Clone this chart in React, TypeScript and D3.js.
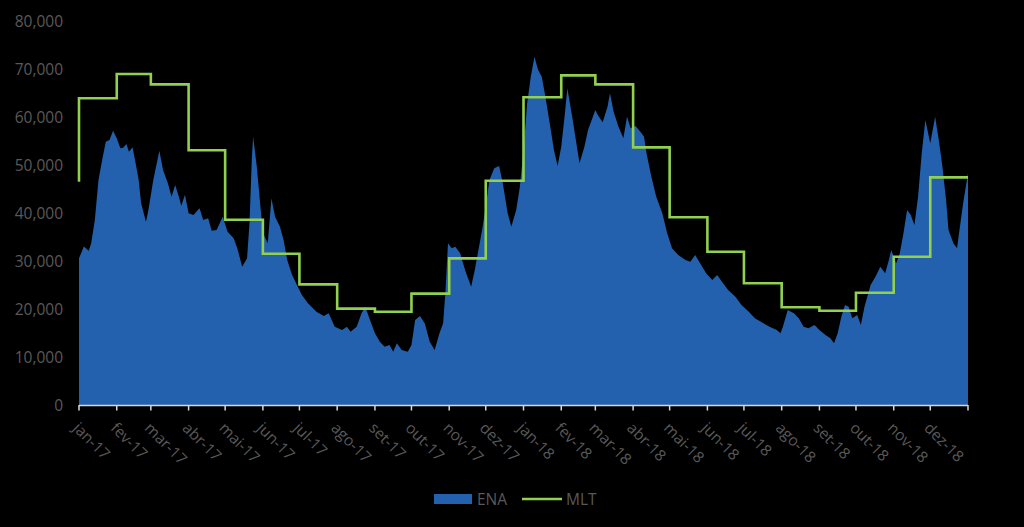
import React from "react";
import * as d3 from "d3";

// ENA daily-flow samples: day offset since 2017-01-01 and value (MWmed)
const enaDays = [
  0, 4, 8, 10, 13, 16, 19, 22, 25, 28, 31, 34, 36, 39, 41, 44, 46, 49, 51, 55, 57, 61, 66, 69, 73, 76, 79, 82, 84, 87,
  90, 94, 99, 102, 106, 109, 113, 118, 122, 127, 130, 134, 138, 140, 142, 143, 146, 149, 151, 155, 158, 161, 165, 168,
  171, 175, 179, 183, 188, 195, 201, 205, 210, 216, 220, 223, 228, 232, 235, 239, 243, 247, 251, 255, 258, 261, 265,
  270, 273, 276, 280, 284, 288, 292, 296, 299, 301, 303, 306, 309, 313, 317, 322, 325, 328, 331, 334, 337, 341, 345,
  348, 352, 355, 359, 362, 365, 368, 371, 374, 377, 380, 383, 387, 390, 393, 396, 399, 401, 405, 408, 411, 415, 418,
  421, 424, 426, 430, 434, 436, 439, 443, 447, 450, 453, 457, 461, 464, 466, 470, 474, 479, 483, 487, 492, 498, 502,
  506, 510, 515, 520, 524, 528, 533, 539, 544, 550, 555, 562, 567, 573, 576, 578, 582, 587, 591, 595, 599, 604, 608,
  613, 617, 620, 623, 626, 629, 632, 635, 639, 642, 645, 650, 654, 658, 662, 665, 667, 671, 674, 677, 680, 683, 686,
  689, 692, 695, 699, 703, 706, 709, 712, 714, 718, 721, 723, 726, 730,
];
const enaValues = [
  30560, 33000, 32150, 33680, 38540, 46900, 51040, 54860, 55200, 57150, 55560, 53470, 53540, 54375, 52780, 53680, 51040,
  46880, 42020, 38200, 40620, 46880, 52990, 48960, 46180, 43400, 45830, 43400, 41500, 43800,
  39930, 39580, 40970, 38540, 38890, 36320, 36460, 39240, 36110, 34720, 32640, 28820, 30560, 37850, 51730, 55900, 49650,
  41310, 35760, 33680, 43060, 39240, 37150, 34375,
  30210, 27080, 25000, 22920, 21180, 19440, 18540, 19100, 16320, 15625, 16320, 15280, 16320, 19100, 20490, 17700, 14930,
  13190, 12150, 12500, 11100, 12850, 11460,
  11100, 12500, 17700, 18540, 17000, 13200, 11460, 14930, 17010, 23960, 33680, 32640, 32990, 31600, 28125, 24650, 28125,
  32290, 36460, 41310, 46880, 49310, 49790,
  46180, 39930, 37150, 40620, 45480, 53125, 62850, 68400, 72560, 69790, 68400, 64230, 57980, 53125, 49790, 53820, 60770,
  65980, 60070, 55210, 50350, 53820, 57290,
  59375, 61460, 60420, 58900, 62150, 64930, 61100, 57980, 55560, 60070, 57640, 58125, 56940, 55900, 52430, 47570, 43400,
  39930, 35760, 32640, 31250, 30210, 29860,
  31250, 29510, 27430, 26040, 27080, 25690, 23960, 22570, 20830, 19440, 18060, 17010, 16320, 15625, 14930, 16320, 19790,
  19100, 18060, 16320, 15970, 16670, 15625,
  14580, 13890, 12850, 14930, 18400, 20830, 20490, 18060, 18750, 16670, 20490, 25000, 26740, 28820, 27430, 30210, 32290,
  29510, 31600, 35760, 40620, 39580, 37500,
  43400, 52430, 59375, 54510, 60070, 55210, 49650, 42700, 36460, 33680, 32640, 36460, 42020, 48260,
];

// MLT: value on the first day, then one value per month (Jan-17 .. Dec-18)
const mltStart = 46500;
const mltMonthly = [
  63900, 68960, 66800, 53060, 38600, 31520, 25140, 20070, 19440, 23200, 30550, 46730,
  64100, 68680, 66800, 53680, 39100, 31940, 25350, 20350, 19650, 23400, 30900, 47430,
];

const monthLabels = [
  "jan-17", "fev-17", "mar-17", "abr-17", "mai-17", "jun-17", "jul-17", "ago-17", "set-17", "out-17", "nov-17", "dez-17",
  "jan-18", "fev-18", "mar-18", "abr-18", "mai-18", "jun-18", "jul-18", "ago-18", "set-18", "out-18", "nov-18", "dez-18",
];
const yTicks = [0, 10000, 20000, 30000, 40000, 50000, 60000, 70000, 80000];

const FONT = "'Open Sans', 'Liberation Sans', sans-serif";
const TEXT = "#595959";
const BLUE = "#2360ae";
const GREEN = "#92d050";

export default function App() {
  const W = 1024;
  const H = 527;
  const start = new Date(Date.UTC(2017, 0, 1));
  const end = new Date(Date.UTC(2019, 0, 1));
  const x = d3.scaleUtc().domain([start, end]).range([79, 968]);
  const y = d3.scaleLinear().domain([0, 80000]).range([405, 21]);

  const ena = enaDays.map((d, i) => ({ date: d3.utcDay.offset(start, d), v: enaValues[i] }));
  const months = d3.utcMonth.range(start, end);
  const mlt = [
    { date: start, v: mltStart },
    ...months.map((m, i) => ({ date: i === 0 ? m : m, v: mltMonthly[i] })),
    { date: end, v: mltMonthly[mltMonthly.length - 1] },
  ];

  const area = d3
    .area<{ date: Date; v: number }>()
    .x((d) => x(d.date))
    .y0(y(0))
    .y1((d) => y(d.v));
  const line = d3
    .line<{ date: Date; v: number }>()
    .x((d) => x(d.date))
    .y((d) => y(d.v))
    .curve(d3.curveStepAfter);

  const tickDates = [...months, end];

  return (
    <svg
      width={W}
      height={H}
      style={{ position: "absolute", left: 0, top: 0, background: "#000" }}
      fontFamily={FONT}
    >
      <rect x={0} y={0} width={W} height={H} fill="#000" />
      <path d={area(ena) || ""} fill={BLUE} />
      <path d={line(mlt) || ""} fill="none" stroke={GREEN} strokeWidth={2.6} strokeLinejoin="miter" />

      {/* x axis */}
      <line x1={x(start)} x2={x(end)} y1={405.5} y2={405.5} stroke="#d9d9d9" strokeWidth={1.5} />
      {tickDates.map((d, i) => (
        <line key={"t" + i} x1={x(d)} x2={x(d)} y1={405} y2={410.5} stroke="#d9d9d9" strokeWidth={1.5} />
      ))}
      {months.map((d, i) => (
        <text
          key={"l" + i}
          transform={`translate(${x(d) - 7},${429}) rotate(45)`}
          fontSize={15.5}
          fill={TEXT}
          textAnchor="start"
        >
          {monthLabels[i]}
        </text>
      ))}

      {/* y axis labels */}
      {yTicks.map((t) => (
        <text key={t} x={63} y={y(t)} dy="0.36em" textAnchor="end" fontSize={15.5} fill={TEXT}>
          {d3.format(",")(t)}
        </text>
      ))}

      {/* legend */}
      <rect x={434} y={494} width={38} height={10} fill={BLUE} />
      <text x={477} y={504.5} fontSize={15.5} fill={TEXT}>
        ENA
      </text>
      <line x1={522} x2={562} y1={499} y2={499} stroke={GREEN} strokeWidth={2.6} />
      <text x={566} y={504.5} fontSize={15.5} fill={TEXT}>
        MLT
      </text>
    </svg>
  );
}
